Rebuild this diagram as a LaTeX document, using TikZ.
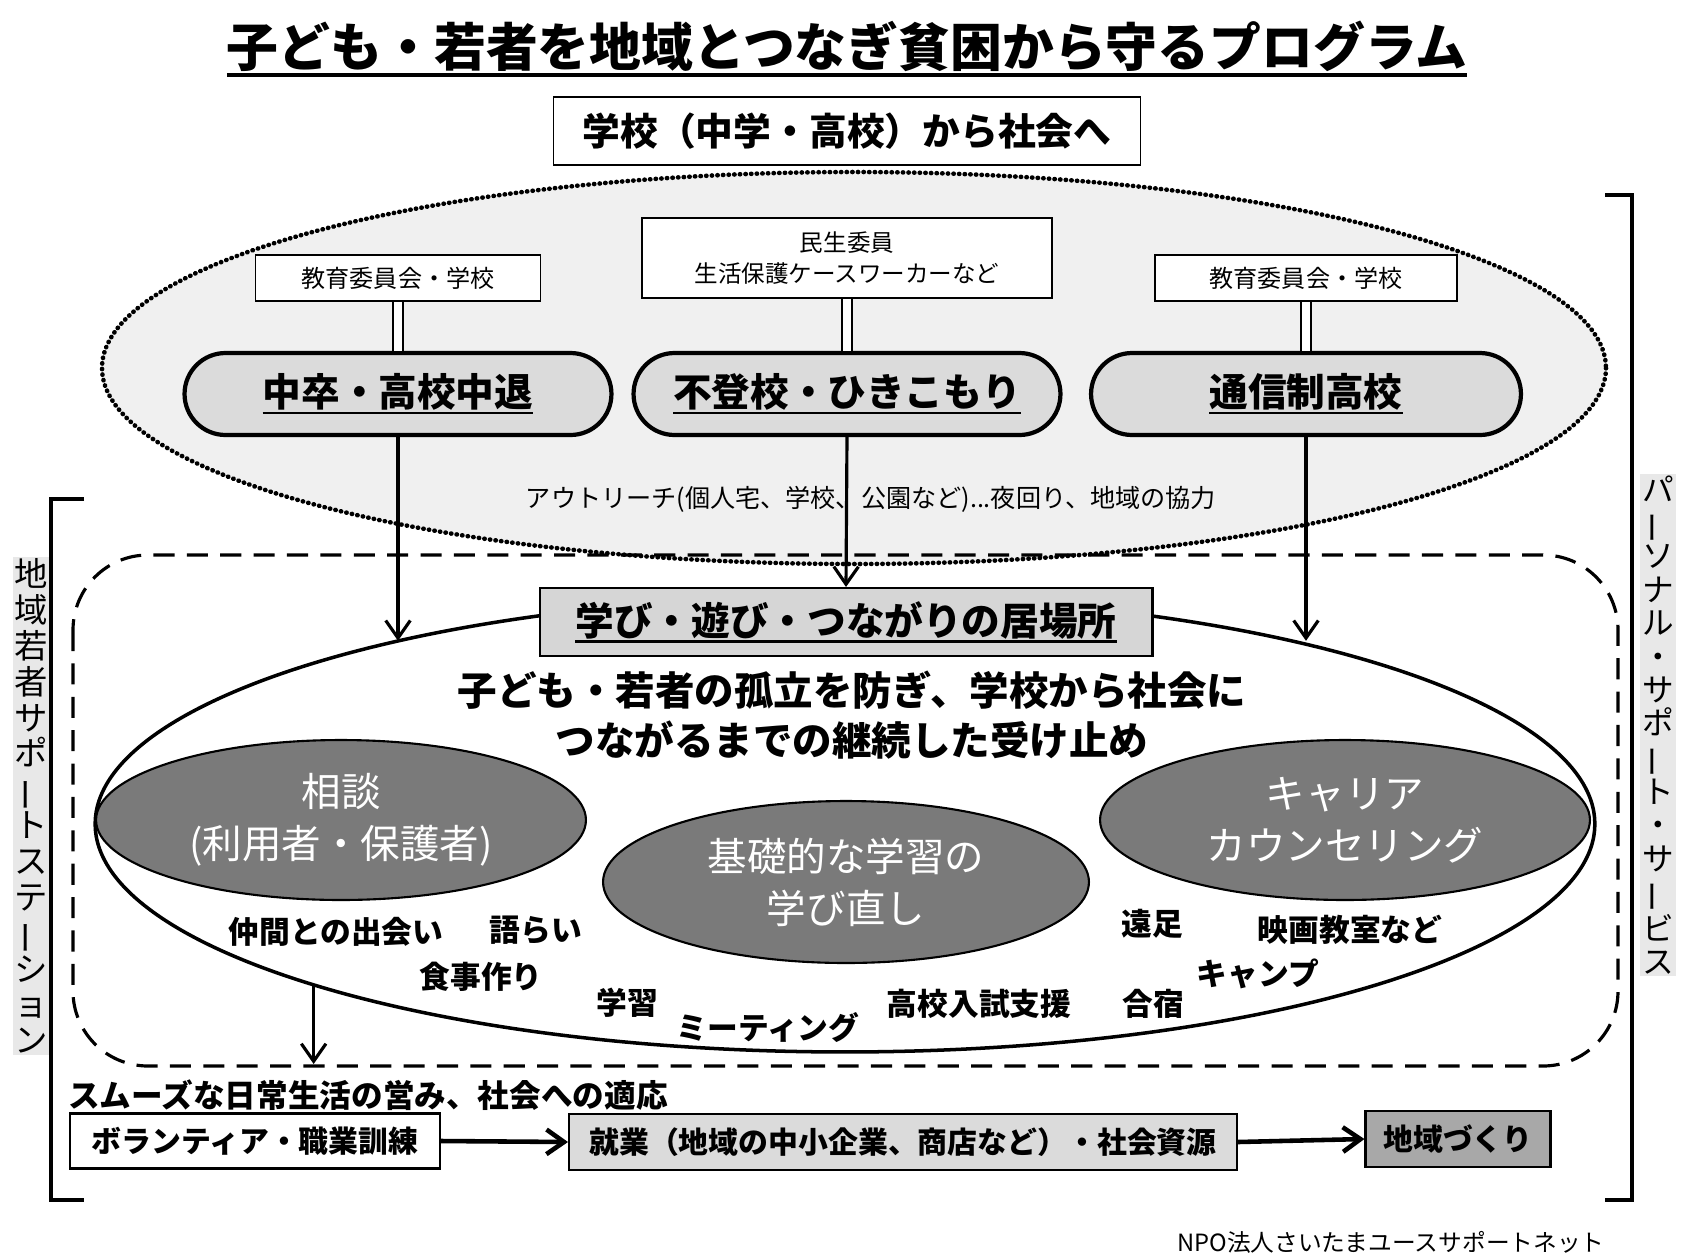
\documentclass[tikz,border=0pt]{standalone}
\usepackage{fontspec}
\setmainfont{Noto Sans CJK JP}
\usetikzlibrary{arrows.meta,shapes.geometric,shapes.misc}

\definecolor{ovalfill}{gray}{0.94}
\definecolor{pillfill}{gray}{0.86}
\definecolor{placefill}{gray}{0.84}
\definecolor{actfill}{gray}{0.48}
\definecolor{jobfill}{gray}{0.86}
\definecolor{townfill}{gray}{0.66}
\definecolor{labelfill}{gray}{0.91}

% underline with a chosen thickness
\newcommand{\ulbar}[2][1.6pt]{\setbox0=\hbox{#2}\leavevmode\rlap{\rule[-0.2em]{\wd0}{#1}}\box0}
% long vowel mark for vertical text
\newcommand{\vlong}{\rotatebox[origin=c]{90}{ー}}

\begin{document}
\begin{tikzpicture}[x=0.02cm,y=-0.02cm,>={Straight Barb[length=10pt,width=14pt]},
  box/.style={draw,line width=1pt,inner sep=0pt,align=center},
  pill/.style={rounded rectangle,draw,line width=2.4pt,fill=pillfill,inner sep=0pt,minimum height=1.64cm,minimum width=8.54cm,font=\bfseries\fontsize{22}{26}\selectfont},
  act/.style={ellipse,draw,line width=1.2pt,fill=actfill,text=white,align=center,inner sep=0pt,minimum width=9.8cm,minimum height=3.2cm,font=\fontsize{22.5}{29.5}\selectfont},
  tag/.style={font=\bfseries\fontsize{17.5}{20}\selectfont,inner sep=0pt},
  flow/.style={draw,line width=1.2pt,inner sep=0pt,minimum height=1.1cm,font=\bfseries\fontsize{17}{20}\selectfont},
  vlabel/.style={fill=labelfill,inner sep=1pt,align=center},
  link/.style={double,double distance=5pt,line width=0.8pt},
  feed/.style={->,line width=1.8pt}]
\useasboundingbox (0,0) rectangle (1691,1255);

% title
\node[font=\bfseries\fontsize{29.5}{34}\selectfont] (title) at (847,49) {\ulbar[2.2pt]{子ども・若者を地域とつなぎ貧困から守るプログラム}};
\node[box,minimum width=11.74cm,minimum height=1.36cm,font=\bfseries\fontsize{21.5}{26}\selectfont] (head) at (847,131) {学校（中学・高校）から社会へ};

% outreach area
\draw[fill=ovalfill,line width=2.6pt,line cap=round,dash pattern=on 0.2pt off 3pt] (854,368) ellipse [x radius=752,y radius=196];
\node[box,fill=white,minimum width=5.7cm,minimum height=0.92cm,font=\fontsize{13.7}{16}\selectfont] (lorg) at (398,278) {教育委員会・学校};
\node[box,fill=white,minimum width=8.2cm,minimum height=1.6cm,font=\fontsize{13.4}{18}\selectfont] (morg) at (847,258) {民生委員\\生活保護ケースワーカーなど};
\node[box,fill=white,minimum width=6.04cm,minimum height=0.92cm,font=\fontsize{13.7}{16}\selectfont] (rorg) at (1306,278) {教育委員会・学校};
\node[pill] (lpill) at (398,394) {\ulbar{中卒・高校中退}};
\node[pill] (mpill) at (847,394) {\ulbar{不登校・ひきこもり}};
\node[pill,minimum width=8.6cm] (rpill) at (1306,394) {\ulbar{通信制高校}};
\draw[link] (lorg.south) -- (lorg.south |- lpill.north);
\draw[link] (morg.south) -- (morg.south |- mpill.north);
\draw[link] (rorg.south) -- (rorg.south |- rpill.north);
\node[font=\fontsize{14.3}{17}\selectfont] (reach) at (871,499) {アウトリーチ(個人宅、学校、公園など)...夜回り、地域の協力};

% support station
\draw[line width=1.8pt,dash pattern=on 12pt off 7pt,rounded corners=1.5cm] (73,555) rectangle (1618,1066);
\node[ellipse,draw,line width=2pt,fill=white,inner sep=0pt,minimum width=30cm,minimum height=9.12cm] (inner) at (845,824) {};
\node[box,line width=1.2pt,fill=placefill,minimum width=12.26cm,minimum height=1.36cm,font=\bfseries\fontsize{22}{26}\selectfont] (place) at (846,622) {\ulbar{学び・遊び・つながりの居場所}};
\node[align=center,font=\bfseries\fontsize{22.5}{28.5}\selectfont] (aim) at (852,715) {子ども・若者の孤立を防ぎ、学校から社会に\\つながるまでの継続した受け止め};
\node[act] (talk) at (341,820) {相談\\(利用者・保護者)};
\node[act,minimum width=9.72cm,minimum height=3.24cm] (study) at (846,882) {基礎的な学習の\\学び直し};
\node[act] (career) at (1345,820) {キャリア\\カウンセリング};

\node[tag] (meet) at (336,932) {仲間との出会い};
\node[tag] (chat) at (536,930) {語らい};
\node[tag] (meal) at (481,977) {食事作り};
\node[tag] (learn) at (627,1003) {学習};
\node[tag] (mtg) at (768,1028) {ミーティング};
\node[tag] (exam) at (979,1004) {高校入試支援};
\node[tag] (trip) at (1152,924) {遠足};
\node[tag] (movie) at (1350,930) {映画教室など};
\node[tag] (camp) at (1258,974) {キャンプ};
\node[tag] (stay) at (1153,1004) {合宿};

\draw[feed] (lpill.south) -- (lpill.south |- inner.158);
\draw[feed] (mpill.south) -- (place.north);
\draw[feed] (rpill.south) -- (rpill.south |- inner.22);

% toward society
\coordinate (adapt) at (316,1064);
\draw[feed] (inner.197) -- (inner.197 |- adapt);
\node[anchor=west,inner sep=0pt,font=\bfseries\fontsize{18}{20}\selectfont] (life) at (68,1095) {スムーズな日常生活の営み、社会への適応};
\node[flow,fill=white,minimum width=7.4cm] (vol) at (255,1141) {ボランティア・職業訓練};
\node[flow,fill=jobfill,minimum width=13.36cm,minimum height=1.12cm] (job) at (903,1142) {就業（地域の中小企業、商店など）・社会資源};
\node[flow,fill=townfill,minimum width=3.7cm,minimum height=1.12cm] (town) at (1458,1139) {地域づくり};
\draw[feed,line width=2.6pt] (vol.east) -- (job.west);
\draw[feed,line width=2.6pt] (job.east) -- (town.west);

% brackets and side labels
\draw[line width=2pt] (84,499) -- (51,499) -- (51,1200) -- (84,1200);
\draw[line width=2pt] (1605,195) -- (1632,195) -- (1632,1200) -- (1605,1200);
\node[vlabel,font=\fontsize{19}{20.4}\selectfont] (station) at (31,806) {地\\域\\若\\者\\サ\\ポ\\\vlong\\ト\\ス\\テ\\\vlong\\シ\\ョ\\ン};
\node[vlabel,font=\fontsize{18}{19}\selectfont] (personal) at (1658,725) {パ\\\vlong\\ソ\\ナ\\ル\\・\\サ\\ポ\\\vlong\\ト\\・\\サ\\\vlong\\ビ\\ス};

\node[anchor=east,inner sep=0pt,font=\fontsize{13.5}{16}\selectfont] (credit) at (1605,1242) {NPO法人さいたまユースサポートネット};
\end{tikzpicture}
\end{document}
